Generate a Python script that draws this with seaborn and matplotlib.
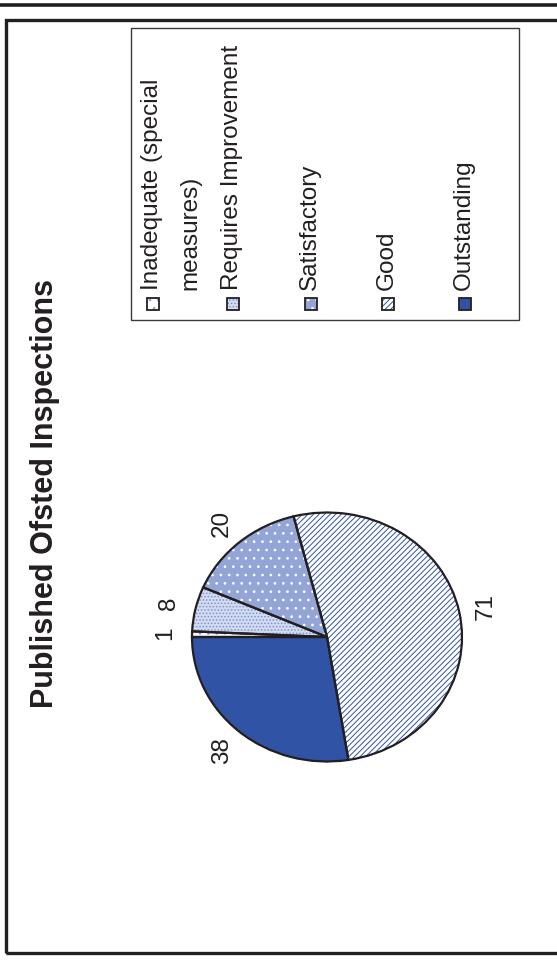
import matplotlib
matplotlib.use("Agg")
import matplotlib.pyplot as plt
import seaborn as sns
from matplotlib.patches import Rectangle
from matplotlib.lines import Line2D

# ---- data ----
categories = ["Inadequate (special\nmeasures)", "Requires Improvement",
              "Satisfactory", "Good", "Outstanding"]
values = [1, 8, 20, 71, 38]
value_labels = ["1", "8", "20", "71", "38"]
title = "Published Ofsted Inspections"

# ---- styles ----
face_colors = ["#FFFFFF", "#D3DBF1", "#93A4D7", "#FFFFFF", "#3053A5"]
hatch_colors = ["#8FA0D5", "#7D92CE", "#FFFFFF", "#3053A5", "#3053A5"]
hatches = ["..", ".....", "..", "//////", ""]

sns.set_theme(style="white")
plt.rcParams["font.family"] = ["Liberation Sans", "DejaVu Sans"]
plt.rcParams["hatch.linewidth"] = 0.7

W, H = 557, 964
fig = plt.figure(figsize=(W / 100, H / 100), dpi=100)
fig.patch.set_facecolor("white")


def fx(x):
    return x / W


def fy(y):
    return 1 - y / H


# ---- outer frame ----
fig.add_artist(Line2D([0, 1], [fy(4.5), fy(4.5)], color="#231F20", lw=2.6))
frame = Rectangle((fx(6), fy(953)), fx(600) - fx(6), fy(20) - fy(953),
                  transform=fig.transFigure, fill=False, edgecolor="#231F20",
                  lw=2.4)
fig.add_artist(frame)

# ---- title ----
fig.text(fx(45), fy(493), title, rotation=90, ha="center", va="center",
         fontsize=22, fontweight="bold", color="#231F20")

# ---- pie ----
cx, cy, rx, ry = 327, 637, 135, 124.5
lim = 1.5
ax = fig.add_axes([fx(cx - rx * lim), fy(cy + ry * lim),
                   fx(2 * rx * lim), (2 * ry * lim) / H])
wedges, texts = ax.pie(values, labels=value_labels, startangle=180,
                       counterclock=False, labeldistance=1.2,
                       wedgeprops=dict(linewidth=0),
                       textprops=dict(fontsize=17.5, color="#231F20"))
for w, fc, hc, h in zip(wedges, face_colors, hatch_colors, hatches):
    w.set_facecolor(fc)
    w.set_edgecolor(hc)
    w.set_hatch(h)
for t in texts:
    t.set_rotation(90)
    t.set_ha("center")
    t.set_va("center")
ax.pie(values, startangle=180, counterclock=False,
       wedgeprops=dict(fill=False, edgecolor="#231F20", linewidth=1.6))
ax.set_aspect("auto")
ax.set_xlim(-lim, lim)
ax.set_ylim(-lim, lim)
ax.axis("off")

# ---- legend (rotated, drawn manually) ----
lx0, ly0, lx1, ly1 = 131, 28, 519, 320
fig.add_artist(Rectangle((fx(lx0), fy(ly1)), fx(lx1) - fx(lx0),
                         fy(ly0) - fy(ly1), transform=fig.transFigure,
                         fill=False, edgecolor="#3A3A3A", lw=1.0))
square_x = [153, 233, 311, 388, 465]
line_gap = 38
sq = 12
sq_y = 304
for cat, sx, fc, hc, h in zip(categories, square_x, face_colors,
                              hatch_colors, hatches):
    fig.add_artist(Rectangle((fx(sx - sq / 2), fy(sq_y + sq / 2)), sq / W,
                             sq / H, transform=fig.transFigure,
                             facecolor=fc, edgecolor=hc, hatch=h, lw=0))
    fig.add_artist(Rectangle((fx(sx - sq / 2), fy(sq_y + sq / 2)), sq / W,
                             sq / H, transform=fig.transFigure,
                             fill=False, edgecolor="#231F20", lw=1.3))
    for i, line in enumerate(cat.split("\n")):
        fig.text(fx(sx - 1 + i * line_gap), fy(290), line, rotation=90,
                 ha="center", va="bottom", fontsize=17.5, color="#231F20")

fig.savefig("out.png", dpi=100, facecolor="white")
